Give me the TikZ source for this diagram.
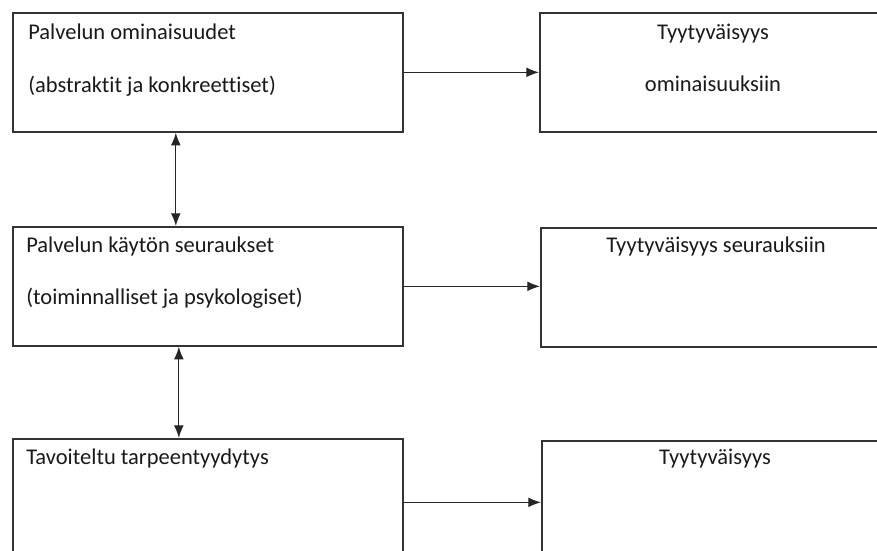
\documentclass[tikz,border=0pt]{standalone}
\usepackage{fontspec}
\setmainfont[Ligatures=CommonOff]{Carlito}
\usetikzlibrary{positioning,arrows.meta}

\begin{document}
\begin{tikzpicture}[>={Latex[length=9pt,width=7pt]},
   box/.style={draw=black!80, line width=1.2pt, minimum width=9.75cm, minimum height=2.975cm, anchor=north west, inner sep=0pt},
   rbox/.style={box, minimum width=9cm},
   txt/.style={font=\fontsize{16}{19}\selectfont, text=black!90, inner sep=0pt},
   link/.style={->, line width=0.9pt, black!85}]
   % Frame (the boxes run off the page at right and bottom)
   \useasboundingbox (0,0) rectangle (21.925,-13.775);
   \clip (0,0) rectangle (21.925,-13.775);

    % Left column
    \node[box] (omin) at (0.3,-0.3) {};
    \node[box] (seur) at (0.3,-5.65) {};
    \node[box] (tavo) at (0.3,-10.95) {};

    % Right column
    \node[rbox] (tyom) at (13.475,-0.3) {};
    \node[rbox] (tyse) at (13.5,-5.675) {};
    \node[rbox] (tyyt) at (13.525,-11.0) {};

    % Texts
    \node[txt, anchor=base west] (omin1) at ([xshift=0.4cm, yshift=-0.7cm]omin.north west) {Palvelun ominaisuudet};
    \node[txt, anchor=base west] (omin2) at ([xshift=0.4cm, yshift=-2.025cm]omin.north west) {(abstraktit ja konkreettiset)};
    \node[txt, anchor=base west] (seur1) at ([xshift=0.35cm, yshift=-0.675cm]seur.north west) {Palvelun käytön seuraukset};
    \node[txt, anchor=base west] (seur2) at ([xshift=0.35cm, yshift=-1.975cm]seur.north west) {(toiminnalliset ja psykologiset)};
    \node[txt, anchor=base west] (tavo1) at ([xshift=0.35cm, yshift=-0.65cm]tavo.north west) {Tavoiteltu tarpeentyydytys};
    \node[txt, anchor=base] (tyom1) at ([xshift=4.35cm, yshift=-0.7cm]tyom.north west) {Tyytyväisyys};
    \node[txt, anchor=base] (tyom2) at ([xshift=4.35cm, yshift=-2.0cm]tyom.north west) {ominaisuuksiin};
    \node[txt, anchor=base] (tyse1) at ([xshift=4.4cm, yshift=-0.65cm]tyse.north west) {Tyytyväisyys seurauksiin};
    \node[txt, anchor=base] (tyyt1) at ([xshift=4.35cm, yshift=-0.6cm]tyyt.north west) {Tyytyväisyys};

    % Arrows
    \draw[link] (omin.east) -- (omin.east -| tyom.west);
    \draw[link] (seur.east) -- (seur.east -| tyse.west);
    \draw[link] ([yshift=-0.1cm]tavo.east) -- ([yshift=-0.1cm]tavo.east -| tyyt.west);
    \draw[link, <->] ([xshift=-0.8cm]omin.south) -- ([xshift=-0.8cm]seur.north);
    \draw[link, <->] ([xshift=-0.725cm]seur.south) -- ([xshift=-0.725cm]tavo.north);
\end{tikzpicture}
\end{document}
